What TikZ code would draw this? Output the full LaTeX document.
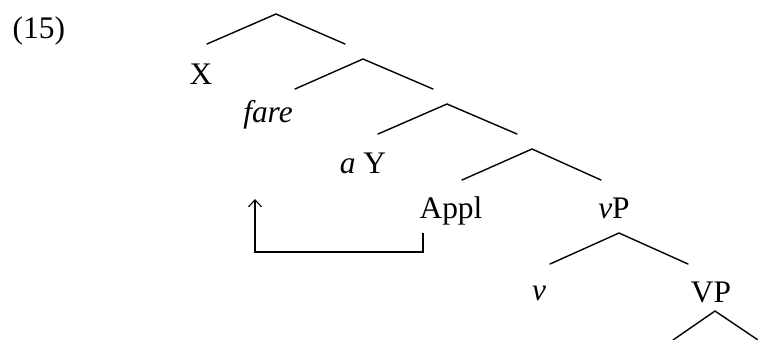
\documentclass[tikz,border=0pt]{standalone}
\usepackage{fontspec}
\setmainfont{Liberation Serif}
\usetikzlibrary{arrows.meta}
\begin{document}
\begin{tikzpicture}[x=0.5pt,y=-0.5pt,line width=0.7pt,
    every node/.style={font=\fontsize{15.7}{18}\selectfont,inner sep=0,anchor=base},
    branch/.style={line cap=round},
    movement/.style={line width=0.55pt,-{Straight Barb[length=3.5pt,width=6.5pt]}}]
  \useasboundingbox (0,0) rectangle (758,339);
  % labels
  \node[anchor=base west] (ex) at (12,38) {(15)};
  \node (X) at (201,84) {X};
  \node (fare) at (268,122) {\textit{fare}};
  \node (aY) at (363,173) {\textit{a} Y};
  \node (Appl) at (451,218) {Appl};
  \node (vP) at (614,218) {\textit{v}P};
  \node (v) at (539,300) {\textit{v}};
  \node (VP) at (711,302) {VP};
  % branching points
  \coordinate (t1) at (276,14);  \coordinate (l1) at (207,44);  \coordinate (r1) at (345,44);
  \coordinate (t2) at (363,59);  \coordinate (l2) at (295,89);  \coordinate (r2) at (433,89);
  \coordinate (t3) at (447,104); \coordinate (l3) at (378,134); \coordinate (r3) at (517,134);
  \coordinate (t4) at (532,149); \coordinate (l4) at (462,180); \coordinate (r4) at (601,180);
  \coordinate (t5) at (619,233); \coordinate (l5) at (550,264); \coordinate (r5) at (688,264);
  \coordinate (t6) at (715,311); \coordinate (l6) at (673,340); \coordinate (r6) at (758,340);
  \draw[branch] (l1) -- (t1) -- (r1);
  \draw[branch] (l2) -- (t2) -- (r2);
  \draw[branch] (l3) -- (t3) -- (r3);
  \draw[branch] (l4) -- (t4) -- (r4);
  \draw[branch] (l5) -- (t5) -- (r5);
  \draw[branch] (l6) -- (t6) -- (r6);
  % movement of Appl
  \coordinate (foot) at (423,233);
  \coordinate (bend) at (423,252);
  \coordinate (landing) at (255,199);
  \draw[movement] (foot) -- (bend) -| (landing);
\end{tikzpicture}
\end{document}
